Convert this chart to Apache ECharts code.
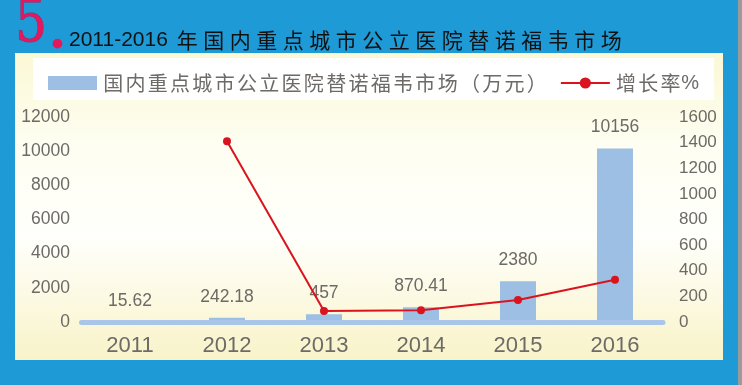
<!DOCTYPE html>
<html>
<head>
<meta charset="utf-8">
<script src="https://cdn.jsdelivr.net/npm/echarts@6/dist/echarts.min.js"></script>
<style>
html,body{margin:0;padding:0;background:#1e9ad6;}
#c{width:742px;height:385px;}
</style>
</head>
<body>
<div id="c"></div>
<script>
const categories = ['2011', '2012', '2013', '2014', '2015', '2016'];
const marketValues = [15.62, 242.18, 457, 870.41, 2380, 10156];
const growthValues = [null, 1410, 86, 92, 172, 330];
const leftTicks = { min: 0, max: 12000, interval: 2000 };
const rightTicks = { min: 0, max: 1600, interval: 200 };
const titleNum = '5';
const titleYears = '2011-2016';
const titleText = '年国内重点城市公立医院替诺福韦市场';
const barName = '国内重点城市公立医院替诺福韦市场（万元）';
const lineName = '增长率%';

const gray = '#6d6a67';
function spaced(s, key) {
  return s.split('').map(c => '{' + (c === '%' ? 'p' : key) + '|' + c + '}').join('');
}

const chart = echarts.init(document.getElementById('c'), null, { renderer: 'canvas' });
chart.setOption({
  backgroundColor: '#1e9ad6',
  animation: false,
  graphic: [
    { type: 'rect', z: -10, shape: { x: 738, y: 0, width: 4, height: 385 }, style: { fill: '#9a9a9a' } },
    { type: 'rect', z: -10, shape: { x: 15, y: 53, width: 708, height: 307 },
      style: { fill: new echarts.graphic.LinearGradient(0, 0, 0, 1, [
        { offset: 0, color: '#fbf8d5' }, { offset: 0.3, color: '#fefef2' },
        { offset: 0.6, color: '#fffffb' }, { offset: 0.85, color: '#fbf8dc' }, { offset: 1, color: '#f8f3c8' }]) } },
    { type: 'rect', z: -9, shape: { x: 33, y: 58, width: 681, height: 42 }, style: { fill: '#ffffff' } },
    { type: 'text', z: 10, x: 15, y: 55, scaleX: 0.84, style: { text: titleNum, font: 'normal 60px "DejaVu Serif", "Liberation Serif", serif', fill: '#e3195b', textVerticalAlign: 'bottom', stroke: '#a0206a', lineWidth: 0.8 } },
    { type: 'text', z: 10, x: 50, y: 62, style: { text: '.', fontSize: 60, fontWeight: 'bold', fontFamily: 'Liberation Serif', fill: '#e3195b', textVerticalAlign: 'bottom' } },
    { type: 'text', z: 10, x: 69, y: 40, style: { text: titleYears, fontSize: 21, fontFamily: 'Liberation Sans', fill: '#111', textVerticalAlign: 'middle' } },
    { type: 'text', z: 10, x: 174, y: 40, style: { text: spaced(titleText, 'c'), textVerticalAlign: 'middle',
        rich: { c: { width: 26.5, align: 'center', fontSize: 21, fontFamily: '"Noto Sans CJK SC"', fill: '#111', color: '#111' } } } }
  ],
  legend: {
    left: 43, top: 68, itemWidth: 49, itemHeight: 14, itemGap: 13,
    data: [{ name: barName, icon: 'rect' }, { name: lineName }],
    formatter: name => spaced(name, 'c'),
    textStyle: { color: gray, rich: {
      c: { width: 22.3, align: 'center', fontSize: 20, fontFamily: '"Noto Sans CJK SC"', color: gray },
      p: { width: 17, align: 'center', fontSize: 20, fontFamily: '"Liberation Sans"', color: gray } } }
  },
  grid: { left: 81.5, right: 78.5, top: 117, bottom: 63 },
  xAxis: {
    type: 'category', data: categories, z: 5,
    axisTick: { show: false },
    axisLine: { lineStyle: { color: '#a9c5ea', width: 5, type: [4, 1.5] } },
    axisLabel: { color: gray, fontSize: 22, fontFamily: '"Liberation Sans"', margin: 13 }
  },
  yAxis: [
    { type: 'value', min: leftTicks.min, max: leftTicks.max, interval: leftTicks.interval,
      splitLine: { show: false }, axisLine: { show: false }, axisTick: { show: false },
      axisLabel: { color: gray, fontSize: 17.5, fontFamily: '"Liberation Sans"', margin: 11.5, formatter: v => String(v) } },
    { type: 'value', min: rightTicks.min, max: rightTicks.max, interval: rightTicks.interval,
      splitLine: { show: false }, axisLine: { show: false }, axisTick: { show: false },
      axisLabel: { color: gray, fontSize: 17, fontFamily: '"Liberation Sans"', margin: 15.5, formatter: v => String(v) } }
  ],
  series: [
    { name: barName, type: 'bar', data: marketValues, barWidth: 36, yAxisIndex: 0,
      itemStyle: { color: '#9dbfe4' },
      label: { show: true, position: 'top', distance: 12, color: gray, fontSize: 17.5, fontFamily: '"Liberation Sans"' } },
    { name: lineName, type: 'line', data: growthValues, yAxisIndex: 1, z: 6,
      symbol: 'circle', symbolSize: 8, connectNulls: false,
      lineStyle: { color: '#d9141f', width: 2 }, itemStyle: { color: '#d9141f' } }
  ]
});
</script>
</body>
</html>
